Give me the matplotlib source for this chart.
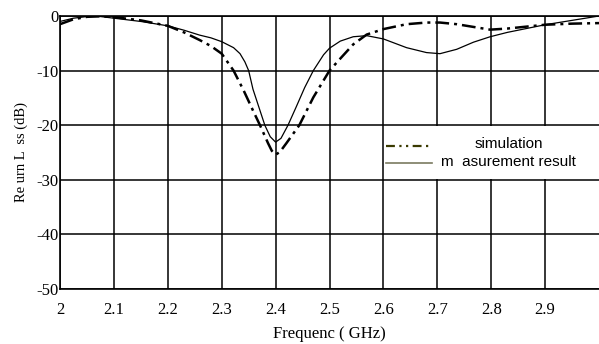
import matplotlib
matplotlib.use("Agg")
import matplotlib.pyplot as plt
from matplotlib.patches import Rectangle

sim_freq = [2.000, 2.025, 2.050, 2.075, 2.100, 2.150, 2.200, 2.230, 2.259, 2.280,
            2.300, 2.322, 2.341, 2.358, 2.371, 2.386, 2.393, 2.400, 2.408, 2.420,
            2.444, 2.470, 2.500, 2.520, 2.544, 2.569, 2.600, 2.643, 2.680, 2.705,
            2.736, 2.767, 2.798, 2.830, 2.860, 2.900, 2.950, 3.000]
simulation = [-1.5, -0.6, -0.15, -0.05, -0.2, -0.8, -1.8, -3.0, -4.4, -5.5,
              -6.9, -10.0, -13.7, -17.3, -20.0, -23.3, -24.7, -25.4, -24.9, -23.3,
              -20.0, -14.9, -10.0, -7.8, -5.2, -3.4, -2.4, -1.5, -1.2, -1.2,
              -1.5, -2.0, -2.5, -2.3, -2.0, -1.6, -1.4, -1.3]

meas_freq = [2.000, 2.025, 2.050, 2.075, 2.100, 2.150, 2.200, 2.230, 2.259, 2.280,
             2.300, 2.322, 2.334, 2.343, 2.350, 2.358, 2.371, 2.380, 2.390, 2.400,
             2.410, 2.423, 2.438, 2.454, 2.470, 2.489, 2.500, 2.520, 2.544, 2.569,
             2.600, 2.643, 2.680, 2.705, 2.736, 2.767, 2.798, 2.830, 2.860, 2.900,
             2.950, 3.000]
measurement = [-1.0, -0.4, -0.1, -0.1, -0.4, -1.0, -1.8, -2.6, -3.5, -4.0,
               -4.7, -5.8, -6.9, -8.4, -10.0, -13.4, -17.3, -20.0, -22.1, -23.1,
               -22.4, -20.0, -16.7, -13.1, -10.0, -7.1, -5.9, -4.6, -3.8, -3.6,
               -4.2, -5.8, -6.7, -6.9, -6.1, -4.8, -3.8, -3.0, -2.4, -1.6,
               -0.8, 0.0]

xticks = [2.0, 2.1, 2.2, 2.3, 2.4, 2.5, 2.6, 2.7, 2.8, 2.9]
xticklabels = ["2", "2.1", "2.2", "2.3", "2.4", "2.5", "2.6", "2.7", "2.8", "2.9"]
yticks = [0, -10, -20, -30, -40, -50]
yticklabels = ["0", "-10", "-20", "-30", "-40", "-50"]
legend_labels = ["simulation", "m  asurement result"]

serif = ["Liberation Serif", "DejaVu Serif"]
sans = ["Liberation Sans", "DejaVu Sans"]

fig = plt.figure(figsize=(5.99, 3.44), dpi=100)
ax = fig.add_axes([60/599, 1-289/344, 539/599, (289-16)/344])
ax.set_xlim(2.0, 3.0)
ax.set_ylim(-50, 0)

ax.set_xticks(xticks)
ax.set_xticklabels(xticklabels, fontfamily=serif, fontsize=12)
ax.set_yticks(yticks)
ax.set_yticklabels(yticklabels, fontfamily=serif, fontsize=12)
ax.tick_params(axis='x', length=0, pad=9)
ax.tick_params(axis='y', length=0, pad=1)
ax.grid(True, color="black", linewidth=1.1)
ax.set_axisbelow(True)
for s in ax.spines.values():
    s.set_linewidth(1.2)
ax.spines['right'].set_visible(False)

ax.plot(sim_freq, simulation, color="black", linewidth=1.8,
        linestyle=(0, (5.5, 2, 1.2, 2)), zorder=3)
ax.plot(meas_freq, measurement, color="black", linewidth=0.9, zorder=3)

# legend box (white area inside the grid cell borders)
ax.add_patch(Rectangle((2.6025, -29.85), 0.4, 9.7, facecolor="white",
                       edgecolor="none", zorder=2))
ax.plot([2.604, 2.69], [-23.8, -23.8], color="#3a3a00", linewidth=1.6,
        linestyle=(0, (4, 2, 1, 2, 1, 2)), zorder=4)
ax.plot([2.604, 2.69], [-26.9, -26.9], color="#7a7a60", linewidth=1.2, zorder=4)
ax.text(2.832, -23.4, legend_labels[0], fontfamily=sans, fontsize=11,
        ha="center", va="center", zorder=4)
ax.text(2.832, -26.7, legend_labels[1], fontfamily=sans, fontsize=11,
        ha="center", va="center", zorder=4)

ax.set_ylabel("Re urn L  ss (dB)", fontfamily=serif, fontsize=10.5, labelpad=6)
ax.set_xlabel("Frequenc ( GHz)", fontfamily=serif, fontsize=12, labelpad=6)

fig.savefig("out.png", dpi=100)
